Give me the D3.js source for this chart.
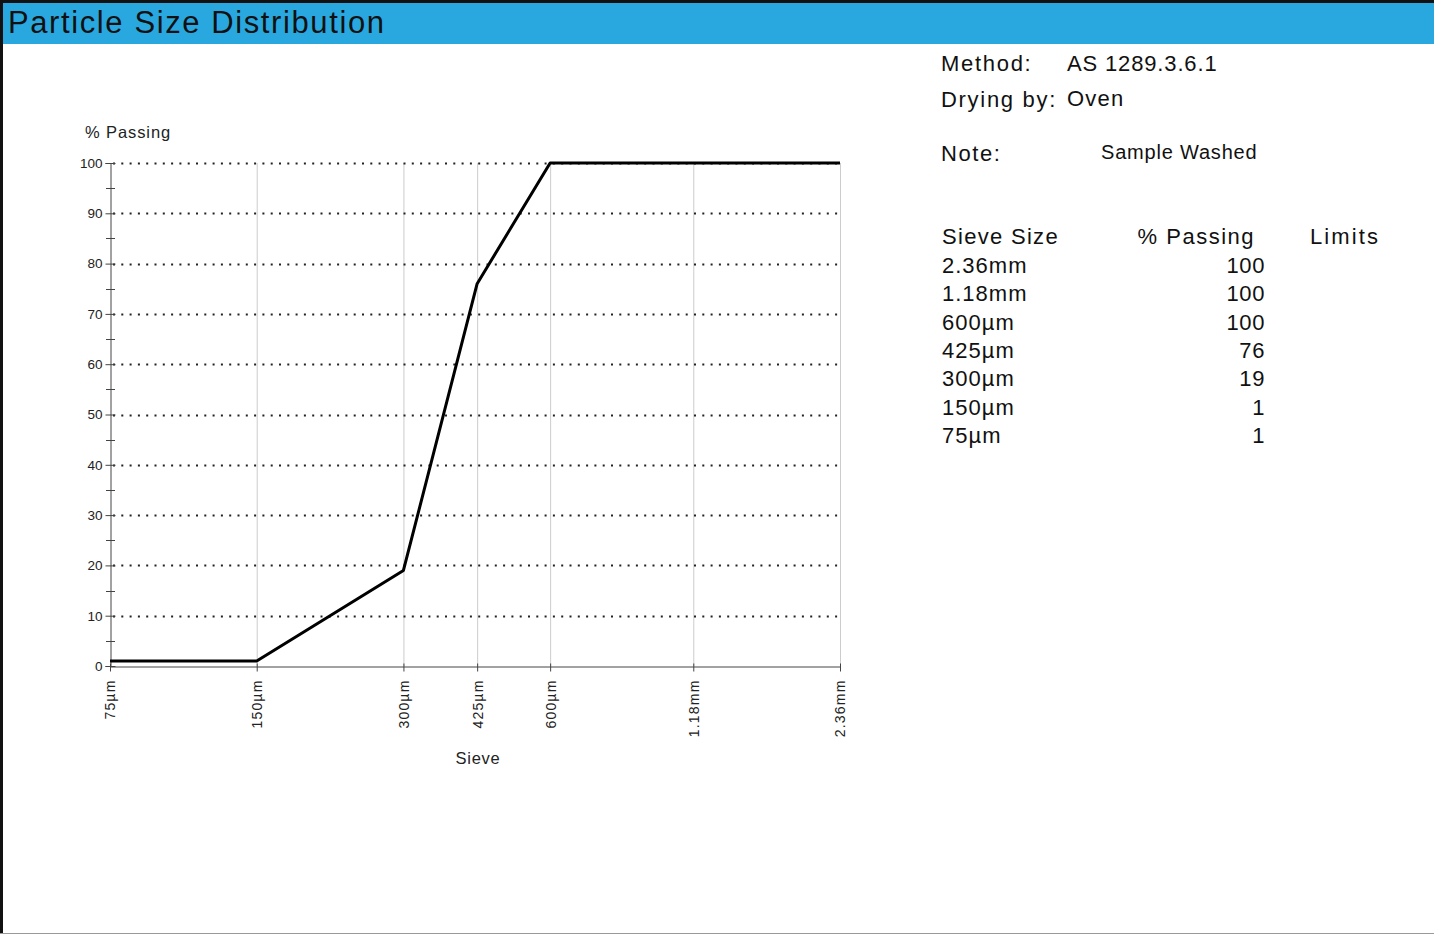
<!DOCTYPE html>
<html><head><meta charset="utf-8">
<script src="https://cdn.jsdelivr.net/npm/d3@7"></script>
<style>html,body{margin:0;padding:0;background:#fff;}svg{display:block;font-family:"Liberation Sans",Arial,sans-serif;}</style>
</head><body>
<svg id="c" width="1434" height="934"></svg>
<script>
const sieveSizes = [75, 150, 300, 425, 600, 1180, 2360];
const sieveLabels = ["75µm", "150µm", "300µm", "425µm", "600µm", "1.18mm", "2.36mm"];
const passing = [1, 1, 19, 76, 100, 100, 100];
const yTicks = [0, 10, 20, 30, 40, 50, 60, 70, 80, 90, 100];
const tableSieve = ["2.36mm", "1.18mm", "600µm", "425µm", "300µm", "150µm", "75µm"];
const tablePassing = ["100", "100", "100", "76", "19", "1", "1"];

const svg = d3.select("#c");
// frame
svg.append("rect").attr("x",0).attr("y",0).attr("width",1434).attr("height",934).attr("fill","#fff");
svg.append("rect").attr("x",0).attr("y",3).attr("width",1434).attr("height",41).attr("fill","#29a8e0");
svg.append("rect").attr("x",0).attr("y",0).attr("width",1434).attr("height",3).attr("fill","#111");
svg.append("rect").attr("x",0).attr("y",0).attr("width",3).attr("height",934).attr("fill","#111");
svg.append("line").attr("x1",0).attr("x2",1434).attr("y1",933.5).attr("y2",933.5).attr("stroke","#999");
svg.append("text").attr("x",8).attr("y",33).attr("font-size",31).attr("letter-spacing",1.6).attr("fill","#111").text("Particle Size Distribution");

const x = d3.scaleLog().domain([75, 2360]).range([110, 840]);
const y = d3.scaleLinear().domain([0, 100]).range([666, 163]);
const g = svg.append("g");

// vertical grid
g.selectAll(".vg").data(sieveSizes.slice(1)).enter().append("line")
  .attr("x1",d=>x(d)+0.5).attr("x2",d=>x(d)+0.5).attr("y1",y(100)).attr("y2",y(0))
  .attr("stroke","#cccccc").attr("stroke-width",1);
// horizontal dotted grid
g.selectAll(".hg").data(yTicks.slice(1)).enter().append("line")
  .attr("x1",x(75)+3).attr("x2",x(2360)).attr("y1",d=>Math.round(y(d))+0.5).attr("y2",d=>Math.round(y(d))+0.5)
  .attr("stroke","#222").attr("stroke-width",2).attr("stroke-dasharray","2,6.3");

// y axis
const yAxis = d3.axisLeft(y).tickValues(yTicks).tickSize(5).tickPadding(3);
const ya = g.append("g").attr("transform",`translate(${x(75)+0.5},0)`).call(yAxis);
ya.select(".domain").attr("stroke","#444");
ya.selectAll(".tick line").attr("stroke","#444").attr("x2",-5).attr("x1",5);
ya.selectAll("text").attr("font-size",13.5).attr("fill","#222").attr("font-family","Liberation Sans, Arial, sans-serif");
// minor ticks
const minor = d3.range(5, 100, 10);
g.selectAll(".mt").data(minor).enter().append("line")
  .attr("x1",x(75)-4).attr("x2",x(75)+5).attr("y1",d=>Math.round(y(d))+0.5).attr("y2",d=>Math.round(y(d))+0.5)
  .attr("stroke","#444");

// x axis
const xAxis = d3.axisBottom(x).tickValues(sieveSizes).tickFormat((d,i)=>sieveLabels[i]).tickSize(5).tickSizeOuter(0);
const xa = g.append("g").attr("transform",`translate(0,${y(0)+0.5})`).call(xAxis);
xa.select(".domain").attr("stroke","#444");
xa.selectAll(".tick line").attr("stroke","#444").attr("y1",-3).attr("y2",5);
xa.selectAll("text").attr("font-size",14).attr("letter-spacing",1.2).attr("fill","#222").attr("font-family","Liberation Sans, Arial, sans-serif")
  .attr("transform","rotate(-90)").attr("text-anchor","end").attr("x",-13).attr("y",0).attr("dy","0.35em");

// line
const line = d3.line().x((d,i)=>x(sieveSizes[i])).y(d=>y(d));
g.append("path").datum(passing).attr("d",line).attr("fill","none").attr("stroke","#000").attr("stroke-width",3).attr("stroke-linejoin","round");

// axis titles
svg.append("text").attr("x",85).attr("y",138).attr("font-size",16.5).attr("letter-spacing",0.9).attr("fill","#222").text("% Passing");
svg.append("text").attr("x",478).attr("y",764).attr("text-anchor","middle").attr("font-size",16.5).attr("letter-spacing",0.7).attr("fill","#222").text("Sieve");

// info text
const info = svg.append("g").attr("font-size",22).attr("fill","#111");
info.append("text").attr("x",941).attr("y",71).attr("letter-spacing",1.7).text("Method:");
info.append("text").attr("x",1067).attr("y",71).attr("letter-spacing",0.85).text("AS 1289.3.6.1");
info.append("text").attr("x",941).attr("y",107).attr("letter-spacing",1.7).text("Drying by:");
info.append("text").attr("x",1067).attr("y",106).attr("letter-spacing",1.2).text("Oven");
info.append("text").attr("x",941).attr("y",161).attr("letter-spacing",1.6).text("Note:");
info.append("text").attr("x",1101).attr("y",159).attr("font-size",20).attr("letter-spacing",0.8).text("Sample Washed");

info.append("text").attr("x",942).attr("y",244).attr("letter-spacing",1.3).text("Sieve Size");
info.append("text").attr("x",1255).attr("y",244).attr("text-anchor","end").attr("letter-spacing",1.5).text("% Passing");
info.append("text").attr("x",1310).attr("y",244).attr("letter-spacing",2.1).text("Limits");
const rowY = d3.scaleLinear().domain([0, tableSieve.length-1]).range([273, 443]);
info.selectAll(".ts").data(tableSieve).enter().append("text").attr("x",942).attr("y",(d,i)=>rowY(i)).attr("letter-spacing",1).text(d=>d);
info.selectAll(".tp").data(tablePassing).enter().append("text").attr("x",1265).attr("y",(d,i)=>rowY(i)).attr("text-anchor","end").attr("letter-spacing",0.6).text(d=>d);
</script>
</body></html>
